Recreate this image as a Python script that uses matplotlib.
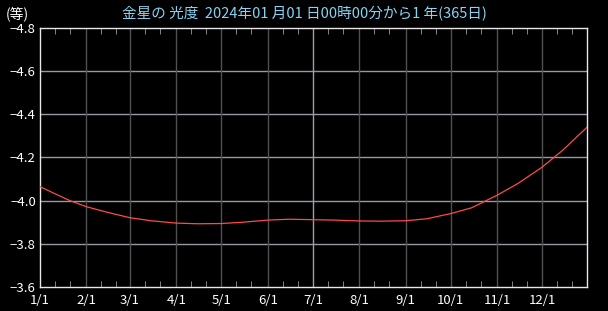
import pandas as pd
import matplotlib.pyplot as plt

plt.rcParams['font.family'] = ['Noto Sans CJK JP', 'DejaVu Sans']

# 金星の光度 (magnitude)
dates = [
    "2024-01-01", "2024-01-11", "2024-01-21", "2024-02-01", "2024-02-15",
    "2024-03-01", "2024-03-15", "2024-04-01", "2024-04-15", "2024-05-01",
    "2024-05-15", "2024-06-01", "2024-06-15", "2024-07-01", "2024-07-15",
    "2024-08-01", "2024-08-15", "2024-09-01", "2024-09-15", "2024-10-01",
    "2024-10-15", "2024-11-01", "2024-11-15", "2024-12-01", "2024-12-15",
    "2024-12-31",
]
magnitude = [
    -4.065, -4.032, -4.000, -3.972, -3.946,
    -3.921, -3.907, -3.896, -3.893, -3.894,
    -3.900, -3.910, -3.914, -3.912, -3.910,
    -3.906, -3.905, -3.907, -3.916, -3.940,
    -3.967, -4.025, -4.080, -4.155, -4.235,
    -4.340,
]
month_labels = ["1/1", "2/1", "3/1", "4/1", "5/1", "6/1",
                "7/1", "8/1", "9/1", "10/1", "11/1", "12/1"]
y_ticks = [-4.8, -4.6, -4.4, -4.2, -4.0, -3.8, -3.6]

x = pd.to_datetime(dates)
month_starts = pd.date_range("2024-01-01", periods=12, freq="MS")
minor = [d + pd.Timedelta(days=k) for d in month_starts for k in (10, 20)]

fig = plt.figure(figsize=(6.08, 3.11), dpi=100, facecolor="black")
ax = fig.add_axes([40 / 608, 24 / 311, 547 / 608, 259 / 311], facecolor="black")

# grid
for yv in y_ticks[1:-1]:
    ax.axhline(yv, color="#9c96a4", lw=1, zorder=1)
for d in month_starts[1:]:
    col = "#a39cab" if d.month == 7 else "#505050"
    ax.axvline(d, color=col, lw=1, zorder=1)

ax.plot(x, magnitude, color="#ff4a4a", lw=0.9, zorder=3)

ax.set_xlim(pd.Timestamp("2024-01-01"), pd.Timestamp("2024-12-31"))
ax.set_ylim(-3.6, -4.8)

ax.set_yticks(y_ticks)
ax.set_yticklabels([f"{v:.1f}".replace("-", "\u2212") for v in y_ticks])
ax.set_xticks(month_starts)
ax.set_xticklabels(month_labels)
ax.set_xticks(minor, minor=True)

ax.tick_params(axis="y", colors="white", labelsize=9.5, length=0, pad=3)
ax.tick_params(axis="x", which="major", colors="white", labelsize=9.5,
               length=0, pad=5)
ax.tick_params(axis="x", which="minor", direction="in", length=4,
               color="#9a9a9a", top=True, bottom=True)

for s in ax.spines.values():
    s.set_color("#e8e8e8")
    s.set_linewidth(1)

fig.text(0.01, 0.955, "(等)", color="white", fontsize=10, va="center")
fig.text(304 / 608, 0.955, "金星の 光度  2024年01 月01 日00時00分から1 年(365日)",
         color="#86d4f4", fontsize=10.5, ha="center", va="center")

plt.savefig("out.png", dpi=100, facecolor="black")
